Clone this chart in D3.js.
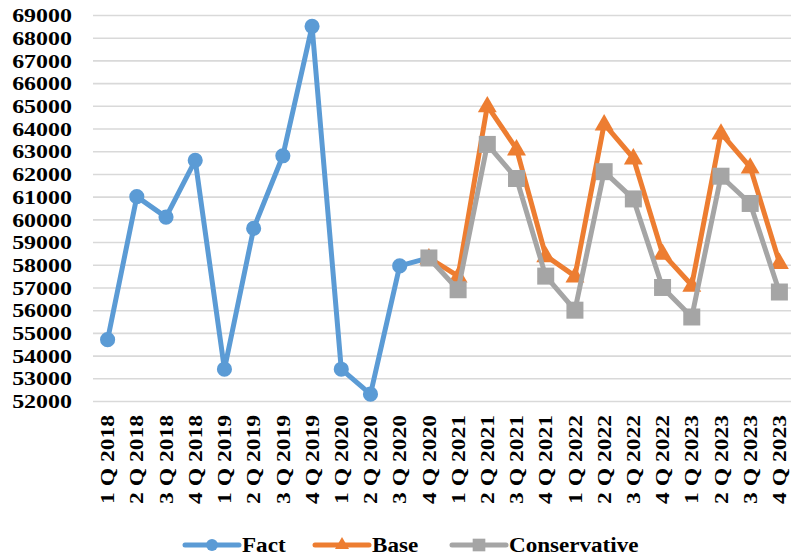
<!DOCTYPE html>
<html>
<head>
<meta charset="utf-8">
<script src="https://cdn.jsdelivr.net/npm/d3@7"></script>
<style>
  html, body { margin: 0; padding: 0; background: #fff; }
  svg { display: block; }
  text { font-family: "Liberation Serif", "Times New Roman", serif; font-weight: bold; fill: #000; }
</style>
</head>
<body>
<svg id="chart" width="791" height="560"></svg>
<script>
// Quarterly categories
const quarters = [
  "1 Q 2018", "2 Q 2018", "3 Q 2018", "4 Q 2018",
  "1 Q 2019", "2 Q 2019", "3 Q 2019", "4 Q 2019",
  "1 Q 2020", "2 Q 2020", "3 Q 2020", "4 Q 2020",
  "1 Q 2021", "2 Q 2021", "3 Q 2021", "4 Q 2021",
  "1 Q 2022", "2 Q 2022", "3 Q 2022", "4 Q 2022",
  "1 Q 2023", "2 Q 2023", "3 Q 2023", "4 Q 2023"
];

// Actual values (through 4 Q 2020)
const factValues = [
  54700, 61000, 60100, 62600,
  53400, 59600, 62800, 68500,
  53400, 52300, 57950, 58300,
  null, null, null, null,
  null, null, null, null,
  null, null, null, null
];

// Base scenario forecast (from 4 Q 2020)
const baseValues = [
  null, null, null, null,
  null, null, null, null,
  null, null, null, 58300,
  57500, 65000, 63100, 58400,
  57500, 64200, 62700, 58500,
  57100, 63800, 62300, 58100
];

// Conservative scenario forecast (from 4 Q 2020)
const conservativeValues = [
  null, null, null, null,
  null, null, null, null,
  null, null, null, 58300,
  56900, 63300, 61800, 57500,
  56000, 62100, 60900, 57000,
  55700, 61900, 60700, 56800
];

const yTicks = [52000, 53000, 54000, 55000, 56000, 57000, 58000, 59000, 60000,
                61000, 62000, 63000, 64000, 65000, 66000, 67000, 68000, 69000];

const seriesNames = ["Fact", "Base", "Conservative"];
const seriesColors = ["#5b9bd5", "#ed7d31", "#a5a5a5"];

const series = [
  { name: seriesNames[0], color: seriesColors[0], values: factValues, symbol: d3.symbolCircle, size: 180, legendSize: 110 },
  { name: seriesNames[1], color: seriesColors[1], values: baseValues, symbol: d3.symbolTriangle, size: 155, legendSize: 85 },
  { name: seriesNames[2], color: seriesColors[2], values: conservativeValues, symbol: d3.symbolSquare, size: 289, legendSize: 160 }
];

const svg = d3.select("#chart");
const plotLeft = 93, plotRight = 794, plotTop = 15, plotBottom = 401;

const x = d3.scaleBand().domain(quarters).range([plotLeft, plotRight]);
const y = d3.scaleLinear().domain([52000, 69000]).range([plotBottom, plotTop]);
const cx = q => x(q) + x.bandwidth() / 2;

// Horizontal gridlines and value labels
const yAxis = svg.append("g")
  .attr("transform", `translate(${plotLeft},0)`)
  .call(d3.axisLeft(y).tickValues(yTicks).tickFormat(d3.format("d"))
    .tickSize(-(plotRight - plotLeft)).tickPadding(21));
yAxis.select(".domain").remove();
yAxis.selectAll(".tick line").attr("stroke", "#d9d9d9").attr("stroke-width", 1.6);
yAxis.selectAll(".tick text")
  .attr("x", 0).attr("dy", "0.35em")
  .attr("transform", "translate(-21,0) scale(1.26,1)")
  .style("font-size", "19px");

// Category labels, rotated
const xAxis = svg.append("g")
  .attr("transform", `translate(0,${plotBottom})`)
  .call(d3.axisBottom(x).tickSize(0).tickPadding(0));
xAxis.select(".domain").remove();
xAxis.selectAll(".tick text")
  .attr("x", 0).attr("y", 0).attr("dy", "0.35em")
  .attr("text-anchor", "end")
  .attr("transform", "translate(0,14) rotate(-90) scale(1.24,1)")
  .style("font-size", "19px");

// Series lines and markers
const line = d3.line()
  .defined(d => d.v !== null)
  .x(d => cx(d.q))
  .y(d => y(d.v));

series.forEach(s => {
  const pts = quarters.map((q, i) => ({ q, v: s.values[i] }));
  const g = svg.append("g");
  g.append("path")
    .datum(pts)
    .attr("fill", "none")
    .attr("stroke", s.color)
    .attr("stroke-width", 5)
    .attr("stroke-linejoin", "round")
    .attr("stroke-linecap", "round")
    .attr("d", line);
  g.selectAll("path.mark")
    .data(pts.filter(d => d.v !== null))
    .join("path")
    .attr("class", "mark")
    .attr("fill", s.color)
    .attr("transform", d => `translate(${cx(d.q)},${y(d.v) + (s.symbol === d3.symbolTriangle ? 1 : 0)})`)
    .attr("d", d3.symbol(s.symbol, s.size));
});

// Legend
const legendItems = [
  { s: series[0], x0: 185 },
  { s: series[1], x0: 315 },
  { s: series[2], x0: 452 }
];
const legendY = 545;
const legend = svg.append("g");
legendItems.forEach(it => {
  const g = legend.append("g").attr("transform", `translate(${it.x0},${legendY})`);
  g.append("line")
    .attr("x1", 0).attr("x2", 54).attr("y1", 0).attr("y2", 0)
    .attr("stroke", it.s.color).attr("stroke-width", 5).attr("stroke-linecap", "round");
  g.append("path")
    .attr("transform", "translate(27,0)")
    .attr("fill", it.s.color)
    .attr("d", d3.symbol(it.s.symbol, it.s.legendSize));
  g.append("text")
    .attr("transform", "translate(57,0) scale(1.1,1)")
    .attr("dy", "0.33em")
    .style("font-size", "21px")
    .text(it.s.name);
});
</script>
</body>
</html>
